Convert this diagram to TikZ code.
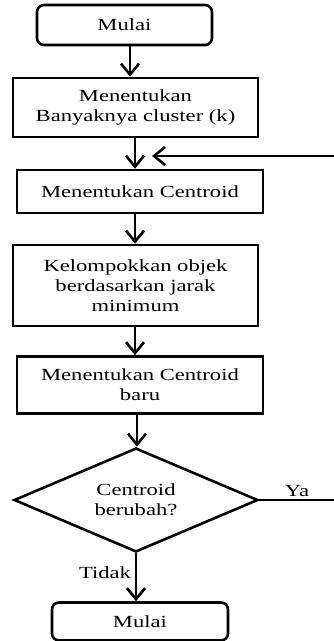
\documentclass[tikz,border=0pt]{standalone}
\usepackage{fontspec}
\setmainfont{Liberation Serif}[FakeStretch=1.33]
\usetikzlibrary{shapes.geometric,arrows.meta}
\begin{document}
\begin{tikzpicture}[x=1pt,y=-1pt,
  every node/.style={font=\fontsize{17}{19.8}\selectfont, text=black, align=center, inner sep=0pt},
  procbox/.style={draw, line width=2.6pt, rectangle},
  termbox/.style={draw, line width=2.6pt, rectangle, rounded corners=7pt},
  decbox/.style={draw, line width=2.6pt, diamond},
  conn/.style={line width=2.6pt},
  arr/.style={line width=2.6pt, -{Straight Barb[length=11pt,width=18pt]}}]
\useasboundingbox (0,0) rectangle (334,641);
% nodes
\node[termbox, minimum width=175pt, minimum height=40pt] (start) at (124.5,25) {Mulai};
\node[procbox, minimum width=245pt, minimum height=59pt] (k) at (135.5,107.5) {Menentukan\\Banyaknya cluster (k)};
\node[procbox, minimum width=246pt, minimum height=43pt] (c) at (140,191.5) {Menentukan Centroid};
\node[procbox, minimum width=245pt, minimum height=81pt] (g) at (135.5,285.5) {Kelompokkan objek\\berdasarkan jarak\\minimum};
\node[procbox, minimum width=246pt, minimum height=57pt] (nc) at (140,385) {Menentukan Centroid\\baru};
\node[decbox, minimum width=244pt, minimum height=104pt, aspect=2.35] (d) at (136,500) {Centroid\\berubah?};
\node[termbox, minimum width=176pt, minimum height=38pt] (end) at (140,621.5) {Mulai};
\node (ya) at (297,491) {Ya};
\node (tidak) at (105,573) {Tidak};
% helper coordinates
\coordinate (x1) at (130,0);
\coordinate (x2) at (135,0);
\coordinate (x3) at (137,0);
\coordinate (yaend) at (338,500);
\coordinate (fbstart) at (338,156);
\coordinate (fbtip) at (152,156);
% connectors
\draw[arr] (start.south -| x1) -- (k.north -| x1);
\draw[arr] (k.south -| x2) -- (c.north -| x2);
\draw[arr] (c.south -| x2) -- (g.north -| x2);
\draw[arr] (g.south -| x2) -- (nc.north -| x2);
\draw[arr] (nc.south -| x3) -- (d.north -| x3);
\draw[arr] (d.south) -- (end.north -| d.south);
\draw[conn] (d.east) -- (yaend) -- (fbstart);
\draw[arr] (fbstart) -- (fbtip);
\end{tikzpicture}
\end{document}
